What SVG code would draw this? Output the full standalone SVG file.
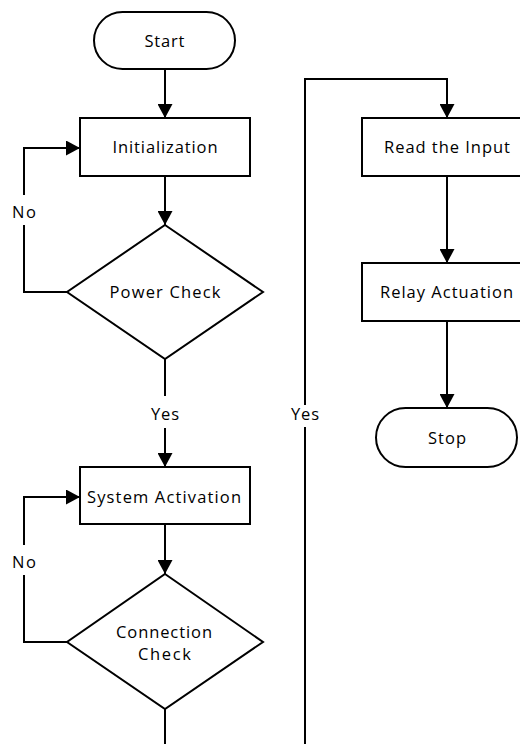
<svg xmlns="http://www.w3.org/2000/svg" width="520" height="744" viewBox="0 0 520 744">
<style>
.shape{fill:#fff;stroke:#000;stroke-width:2}
.conn{fill:none;stroke:#000;stroke-width:2}
text{font-family:"Open Sans","DejaVu Sans",sans-serif;font-size:16.5px;fill:#000;text-anchor:middle}
.lbg{fill:#fff;stroke:none}
</style>
<defs>
<marker id="arr" markerWidth="15" markerHeight="15" refX="14" refY="7.5" orient="auto" markerUnits="userSpaceOnUse">
<path d="M0,0 L14,7.5 L0,15 Z" fill="#000"/>
</marker>
</defs>
<rect width="520" height="744" fill="#fff"/>
<g id="connectors">
<path class="conn" d="M165,69 V118" marker-end="url(#arr)"/>
<path class="conn" d="M165,176 V225" marker-end="url(#arr)"/>
<path class="conn" d="M67,292 H24 V148 H80" marker-end="url(#arr)"/>
<path class="conn" d="M165,359 V467" marker-end="url(#arr)"/>
<path class="conn" d="M165,524 V574" marker-end="url(#arr)"/>
<path class="conn" d="M67,642 H24 V497 H80" marker-end="url(#arr)"/>
<path class="conn" d="M165,709 V770 H305 V79 H447 V118" marker-end="url(#arr)"/>
<path class="conn" d="M447,176 V263" marker-end="url(#arr)"/>
<path class="conn" d="M447,321 V408" marker-end="url(#arr)"/>
<rect class="lbg" x="8" y="195" width="32" height="30"/>
<text x="24" y="218" textLength="24" lengthAdjust="spacing">No</text>
<rect class="lbg" x="148" y="396" width="34" height="32"/>
<text x="165" y="420" textLength="28" lengthAdjust="spacing">Yes</text>
<rect class="lbg" x="8" y="545" width="32" height="30"/>
<text x="24" y="568" textLength="24" lengthAdjust="spacing">No</text>
<rect class="lbg" x="288" y="405" width="34" height="22"/>
<text x="305" y="420" textLength="28" lengthAdjust="spacing">Yes</text>
</g>
<g id="start">
<rect class="shape" x="94" y="12" width="141" height="57" rx="28.5"/>
<text x="164.5" y="46.5" textLength="40" lengthAdjust="spacing">Start</text>
</g>
<g id="initialization">
<rect class="shape" x="80" y="118" width="170" height="58"/>
<text x="165" y="153" textLength="105" lengthAdjust="spacing">Initialization</text>
</g>
<g id="power-check">
<path class="shape" d="M165,225 L263,292 L165,359 L67,292 Z"/>
<text x="165" y="298" textLength="111" lengthAdjust="spacing">Power Check</text>
</g>
<g id="system-activation">
<rect class="shape" x="80" y="467" width="170" height="57"/>
<text x="164" y="502.5" textLength="154" lengthAdjust="spacing">System Activation</text>
</g>
<g id="connection-check">
<path class="shape" d="M165,574 L263,642 L165,709 L67,642 Z"/>
<text x="164" y="638" textLength="96" lengthAdjust="spacing">Connection</text>
<text x="164.5" y="660" textLength="53" lengthAdjust="spacing">Check</text>
</g>
<g id="read-input">
<rect class="shape" x="362" y="118" width="170" height="58"/>
<text x="447" y="153" textLength="126" lengthAdjust="spacing">Read the Input</text>
</g>
<g id="relay-actuation">
<rect class="shape" x="362" y="263" width="170" height="58"/>
<text x="446.5" y="298" textLength="133" lengthAdjust="spacing">Relay Actuation</text>
</g>
<g id="stop">
<rect class="shape" x="376" y="408" width="141" height="59" rx="29.5"/>
<text x="447" y="444" textLength="38" lengthAdjust="spacing">Stop</text>
</g>
</svg>
